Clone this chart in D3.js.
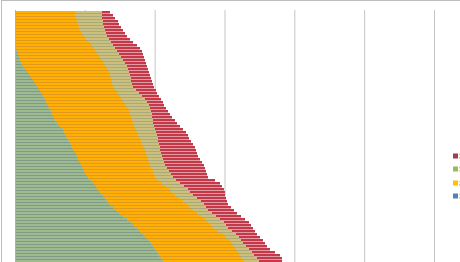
<!DOCTYPE html>
<html>
<head>
<meta charset="utf-8">
<script src="https://cdn.jsdelivr.net/npm/d3@7"></script>
<style>
  body { margin: 0; background: #fff; }
  svg { display: block; font-family: "Liberation Sans", Arial, sans-serif; }
</style>
</head>
<body>
<svg id="chart" width="460" height="262"></svg>
<script>
// stacked values, one entry per bar, top bar first
const series1 = [0,0,0,0,0,0,0,0,0,0,0,0,0,2,3,4,5,6,8,11,13,15,17,19,21,23,25,27,28,30,31,33,34,36,37,39,40,42,45,48,49,51,52,54,56,57,59,61,62,63,65,66,68,69,71,73,76,79,81,83,85,88,90,92,95,98,101,104,108,112,116,119,122,125,128,131,134,136,138,140,142,144,146,148]
const series2 = [60,60,61,62,63,64,65,67,69,71,74,77,79,79,80,81,82,83,83,82,81,80,79,78,76,75,76,76,77,77,78,78,79,78,78,77,77,76,74,73,73,72,73,72,71,72,71,70,70,70,69,69,68,69,68,67,67,68,70,72,72,72,74,76,77,77,77,78,78,78,77,77,76,78,80,81,82,82,82,82,82,82,82,82]
const series3 = [27,27,26,26,25,25,25,24,23,23,22,21,21,21,21,21,21,21,21,20,20,20,20,19,20,20,20,21,22,23,23,23,22,22,22,21,21,20,20,19,19,19,18,17,17,16,15,15,15,15,15,15,16,16,17,18,18,18,18,18,18,18,18,18,17,16,15,15,15,15,16,16,16,15,14,13,11,11,12,13,14,14,15,15]
const series4 = [8,11,13,15,16,17,18,19,20,21,22,24,25,25,24,23,22,21,20,20,20,20,20,21,21,21,20,18,17,16,16,15,16,17,18,20,22,24,26,28,30,31,31,33,34,35,36,36,36,37,38,39,38,37,36,35,39,40,38,36,35,33,30,27,25,26,27,26,26,26,26,25,25,23,21,21,22,22,21,21,23,26,25,23]
const categories = series1.map((d, i) => i + 1)
const seriesNames = ["Series1", "Series2", "Series3", "Series4"]
const xTicks = [0, 70, 140, 210, 280, 350, 420]

const barMain = ["#9dbb8e", "#ffb000", "#cdbf7c", "#c3394a"]
const barEdge = ["#7f9a88", "#e0991e", "#a9aa7c", "#e29ca1"]
const legendColors = ["#4f81bd", "#ffc000", "#9bbb59", "#a0404f"]

const svg = d3.select("#chart")

svg.append("rect")
  .attr("x", 1.5).attr("y", 0.5)
  .attr("width", 480).attr("height", 320)
  .attr("fill", "none").attr("stroke", "#bdbdbd")

const x = d3.scaleLinear().domain([0, 420]).range([15, 434])
const y = d3.scaleBand().domain(categories).range([11, 11 + categories.length * 3]).padding(0)

// gridlines
const grid = svg.append("g")
  .attr("transform", "translate(0,320)")
  .call(d3.axisTop(x).tickValues(xTicks).tickSize(310).tickFormat(""))
grid.select(".domain").remove()
grid.selectAll(".tick line").attr("stroke", "#c4c4c4")

const table = categories.map((c, i) => ({
  cat: c,
  Series1: series1[i], Series2: series2[i], Series3: series3[i], Series4: series4[i]
}))
const stacked = d3.stack().keys(seriesNames)(table)

const layers = svg.append("g").attr("shape-rendering", "crispEdges")
  .selectAll("g")
  .data(stacked)
  .join("g")

layers.selectAll("rect.edge")
  .data(d => d)
  .join("rect")
  .attr("class", "edge")
  .attr("x", d => x(d[0]))
  .attr("width", d => x(d[1]) - x(d[0]))
  .attr("y", d => y(d.data.cat))
  .attr("height", y.bandwidth())
  .attr("fill", function() { return barEdge[d3.select(this.parentNode).datum().index] })

layers.selectAll("rect.main")
  .data(d => d)
  .join("rect")
  .attr("class", "main")
  .attr("x", d => x(d[0]))
  .attr("width", d => x(d[1]) - x(d[0]))
  .attr("y", d => y(d.data.cat))
  .attr("height", y.bandwidth() - 1)
  .attr("fill", function() { return barMain[d3.select(this.parentNode).datum().index] })

// left axis line
svg.append("line")
  .attr("x1", 15.5).attr("x2", 15.5)
  .attr("y1", 10).attr("y2", 262)
  .attr("stroke", "#b0b0b0")

// legend, last series on top
const legendOrder = [3, 2, 1, 0]
const legendY = [156, 169, 183, 196]
const legend = svg.append("g")
legendOrder.forEach((s, i) => {
  legend.append("rect")
    .attr("x", 453).attr("y", legendY[i] - 2.5)
    .attr("width", 5).attr("height", 5)
    .attr("fill", legendColors[s])
  legend.append("text")
    .attr("x", 459).attr("y", legendY[i] + 3)
    .attr("font-size", 9).attr("fill", "#444")
    .text(seriesNames[s])
})
</script>
</body>
</html>
